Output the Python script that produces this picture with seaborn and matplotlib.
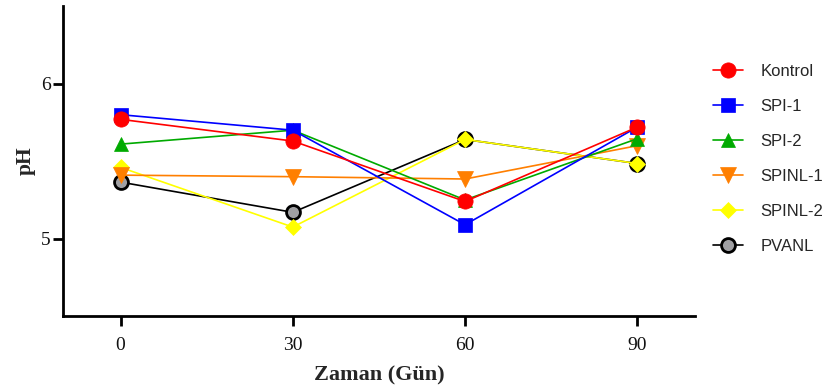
import matplotlib
matplotlib.use("Agg")
import matplotlib.pyplot as plt
import seaborn as sns
import pandas as pd

days = [0, 30, 60, 90]
series_names = ["Kontrol", "SPI-1", "SPI-2", "SPINL-1", "SPINL-2", "PVANL"]
kontrol = [5.77, 5.63, 5.24, 5.72]
spi1 = [5.80, 5.70, 5.09, 5.72]
spi2 = [5.61, 5.70, 5.25, 5.645]
spinl1 = [5.41, 5.40, 5.385, 5.60]
spinl2 = [5.46, 5.075, 5.64, 5.485]
pvanl = [5.365, 5.17, 5.64, 5.485]
values = [kontrol, spi1, spi2, spinl1, spinl2, pvanl]

line_colors = ["#FF0000", "#0000FF", "#00AA00", "#FF7F00", "#FFFF00", "#000000"]
face_colors = ["#FF0000", "#0000FF", "#00AA00", "#FF7F00", "#FFFF00", "#A0A0A3"]
markers = ["o", "s", "^", "v", "D", "o"]
msizes = [11, 10, 10, 11, 8, 10]

sns.set_style("white")
plt.rcParams["font.family"] = ["Liberation Serif", "DejaVu Serif"]

fig = plt.figure(figsize=(8.31, 3.87), dpi=100)
ax = fig.add_axes([0.076, 0.183, 0.76, 0.801])

handles = {}
for i in reversed(range(len(series_names))):
    df = pd.DataFrame({"day": days, "ph": values[i]})
    sns.lineplot(data=df, x="day", y="ph", ax=ax, color=line_colors[i],
                 marker=markers[i], markersize=msizes[i],
                 markerfacecolor=face_colors[i],
                 markeredgecolor=line_colors[i] if i != 5 else "#000000",
                 markeredgewidth=2.0 if i == 5 else 0.5,
                 linewidth=1.2, label=series_names[i], zorder=3 + (5 - i))
    handles[series_names[i]] = ax.lines[-1]

ax.set_xlim(-10, 100)
ax.set_ylim(4.5, 6.5)
ax.set_xticks(days)
ax.set_xticklabels([str(d) for d in days])
ax.set_yticks([5, 6])
ax.set_yticklabels(["5", "6"])
for s in ["top", "right"]:
    ax.spines[s].set_visible(False)
for s in ["left", "bottom"]:
    ax.spines[s].set_color("black")
    ax.spines[s].set_linewidth(2)
ax.tick_params(axis="both", direction="out", length=7.5, width=2, color="black",
               labelsize=14, labelcolor="#111111", left=True, bottom=True)
ax.tick_params(axis="x", pad=7.5)
ax.tick_params(axis="y", pad=1.5)
ax.set_xlabel("Zaman (Gün)", fontsize=16, fontweight="bold", labelpad=8)
ax.set_ylabel("pH", fontsize=15.5, fontweight="bold", labelpad=4)
ax.grid(False)

ax.legend([handles[n] for n in series_names], series_names,
          loc="upper left", bbox_to_anchor=(0.850, 0.851), bbox_transform=fig.transFigure,
          frameon=False, prop={"family": "Liberation Sans", "size": 12},
          labelspacing=1.2, handlelength=1.8, handletextpad=1.05, borderaxespad=0)

fig.savefig("out.png", dpi=100)
